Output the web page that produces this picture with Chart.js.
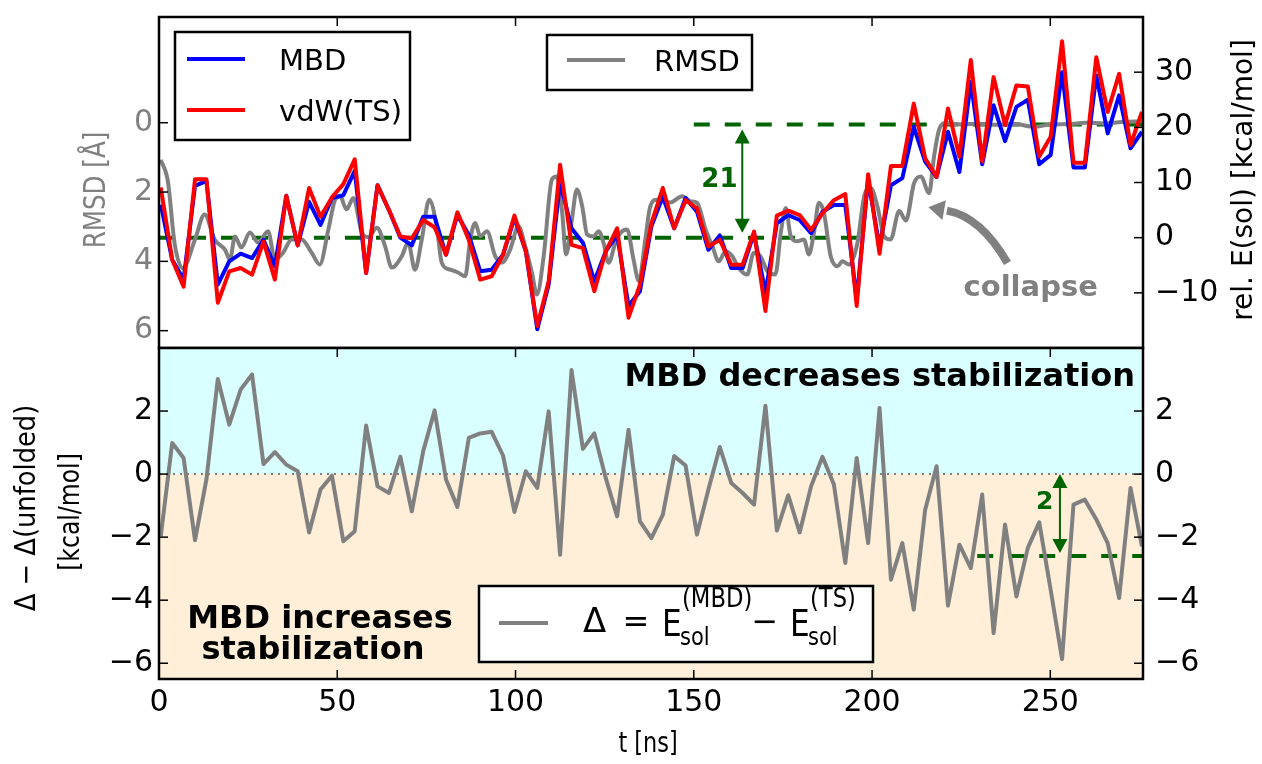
<!DOCTYPE html>
<html><head><meta charset="utf-8"><title>MBD vs vdW(TS)</title>
<script src="https://cdn.jsdelivr.net/npm/chart.js@4.4.1/dist/chart.umd.min.js"></script>
<style>html,body{margin:0;padding:0;background:#fff;overflow:hidden}#wrap{position:relative;width:1262px;height:764px}canvas{position:absolute;left:0;top:0}</style>
</head><body><div id="wrap"><canvas id="cTop" width="1262" height="764"></canvas><canvas id="cBot" width="1262" height="764"></canvas></div>
<script>
// ---------------- DATA ----------------
const times = [0.5,3.7,6.9,10.1,13.3,16.5,19.7,22.9,26.1,29.3,
32.5,35.7,38.9,42.1,45.3,48.5,51.7,54.9,58.1,61.3,
64.5,67.7,70.9,74.1,77.3,80.5,83.7,86.9,90.1,93.3,
96.5,99.7,102.9,106.1,109.3,112.5,115.7,118.9,122.1,125.3,
128.5,131.7,134.9,138.1,141.3,144.5,147.7,150.9,154.1,157.3,
160.5,163.7,166.9,170.1,173.3,176.5,179.7,182.9,186.1,189.3,
192.5,195.7,198.9,202.1,205.3,208.5,211.7,214.9,218.1,221.3,
224.5,227.7,230.9,234.1,237.3,240.5,243.7,246.9,250.1,253.3,
256.5,259.7,262.9,266.1,269.3,272.5,275.7];

const mbd = [6.0,-4.0,-7.6,9.4,10.3,-8.5,-4.3,-2.9,-3.7,-0.4,
-5.2,7.6,-1.4,6.5,2.3,7.2,7.7,12.1,-6.4,9.5,
5.0,0.0,-1.4,3.8,3.8,-3.1,4.1,0.5,-6.1,-5.8,
-3.1,3.6,-2.5,-16.6,-8.5,10.1,1.7,-0.9,-7.9,-2.5,
0.5,-12.4,-9.7,2.0,7.4,1.7,7.2,4.7,-2.2,0.4,
-5.5,-5.5,0.8,-10.0,2.6,4.1,3.2,0.8,4.7,5.9,
5.9,-11.2,10.5,-1.6,9.5,10.8,20.1,13.8,11.0,19.2,
11.9,28.2,13.3,24.0,17.5,23.7,25.0,13.3,15.0,30.0,
12.7,12.7,29.4,18.9,25.8,16.2,19.2];

const vdwTS = [9.1,-4.0,-8.9,10.6,10.6,-11.8,-6.1,-5.5,-6.7,-0.7,
-7.6,7.6,-1.4,9.0,3.8,7.3,9.7,14.2,-6.4,9.5,
5.0,0.2,-0.1,3.2,1.9,-3.1,4.6,-0.4,-7.6,-7.0,
-3.1,4.0,-2.5,-16.0,-7.9,13.2,-1.3,-1.9,-9.7,-2.5,
1.7,-14.5,-8.5,2.6,9.0,1.7,6.8,5.3,-1.6,-0.4,
-4.9,-4.9,1.1,-13.3,4.0,4.9,4.1,1.4,4.4,6.8,
7.9,-12.4,11.5,-2.9,13.0,13.0,24.3,14.4,11.0,23.4,
14.7,32.2,13.8,29.1,20.4,27.6,27.4,14.7,18.3,35.6,
13.6,13.6,32.7,22.8,29.7,16.8,22.8];

const delta = [-1.97,0.99,0.51,-2.10,-0.17,3.02,1.57,2.68,3.16,0.32,
0.70,0.30,0.09,-1.85,-0.49,-0.05,-2.13,-1.81,1.54,-0.39,
-0.60,0.55,-1.18,0.72,2.02,-0.17,-1.04,1.15,1.29,1.34,
0.59,-1.20,0.09,-0.44,1.99,-2.56,3.30,0.80,1.29,-0.12,
-1.34,1.41,-1.50,-2.03,-1.29,0.57,0.27,-1.92,-0.49,0.86,
-0.28,-0.60,-0.97,2.17,-1.79,-0.67,-1.85,-0.39,0.55,-0.33,
-2.82,0.51,-2.19,2.10,-3.35,-2.19,-4.30,-1.13,0.25,-4.17,
-2.24,-2.98,-0.65,-5.04,-1.60,-3.88,-2.34,-1.53,-3.67,-5.87,
-0.97,-0.81,-1.44,-2.19,-3.93,-0.44,-2.29];

// RMSD trace: [t (ns), RMSD (Å)]
const rmsdCurve = [[0.5,1.07],[2.5,1.7],[4.4,3.5],[6.7,4.2],[10.0,3.4],[12.8,2.65],[15.6,3.37],[18.5,3.66],[19.9,3.95],[21.3,3.28],
[23.1,3.6],[25.5,3.17],[27.8,3.46],[30.6,3.13],[32.5,3.95],[34.8,3.75],[37.2,3.37],[40.0,3.37],[42.8,3.75],[45.1,4.09],
[47.5,3.08],[49.4,2.22],[50.8,2.12],[52.6,2.5],[54.5,2.17],[56.9,3.17],[58.7,3.3],[61.1,3.03],[63.4,3.56],[65.3,4.18],
[68.1,3.85],[69.9,3.46],[71.8,4.24],[73.7,3.37],[75.8,2.22],[77.9,2.99],[79.3,4.04],[81.7,4.24],[84.0,4.33],[85.9,4.43],
[87.3,3.37],[88.7,2.89],[90.1,3.28],[92.0,3.13],[94.3,3.85],[96.2,4.04],[98.5,3.66],[100.8,2.99],[102.7,3.56],[104.6,4.33],
[106.0,4.96],[107.9,3.85],[110.2,1.64],[111.6,1.55],[113.0,2.5],[114.2,3.8],[115.8,2.8],[117.2,1.93],[118.7,2.41],[120.1,3.23],
[121.9,3.28],[123.3,3.13],[124.7,3.47],[126.1,4.04],[128.0,3.47],[129.4,3.18],[131.3,3.08],[133.1,3.95],[134.6,4.57],[136.4,3.37],
[137.8,2.41],[139.7,2.22],[143.4,2.3],[146.7,2.12],[149.1,2.27],[150.9,2.31],[153.3,3.08],[155.2,3.56],[157.0,4.0],[158.9,3.71],
[160.8,3.85],[162.6,4.19],[165.0,4.38],[166.8,3.76],[168.7,3.85],[170.6,4.28],[172.9,4.38],[174.4,3.18],[175.8,2.46],[177.2,3.28],
[179.0,3.42],[180.9,3.37],[182.3,3.8],[183.7,3.18],[185.1,2.31],[186.5,2.6],[188.4,3.85],[190.3,4.14],[191.7,4.0],[193.5,4.09],
[195.9,3.47],[197.8,2.12],[199.6,1.88],[201.5,2.41],[203.4,3.28],[205.2,3.37],[207.6,2.55],[209.5,2.82],[211.8,1.74],[213.7,1.55],
[216.0,2.03],[217.4,0.97],[218.8,0.2],[220.7,0.01],[225,0.05],[230,0.03],[235,0.06],[240,0.04],[245.6,0.12],[250,0.05],
[255,0.04],[260,0.0],[265,0.02],[270,-0.02],[276,-0.04]];

const xTicks = [0,50,100,150,200,250];
const rmsdTicks = [0,2,4,6];
const eTicks = [-10,0,10,20,30];
const dTicks = [-6,-4,-2,0,2];
// reference levels: [t start, t end, value]
const topLowLevel = [0, 198, 0];
const topHighLevel = [150, 276, 20.5];
const botLevel = [229.5, 276, -2.6];
const zeroLevel = [0, 276, 0];

// ---------------- STYLE / HELPERS ----------------
const FONT = '"DejaVu Sans", "Liberation Sans", sans-serif';
const GREEN = '#006400', GRAY = '#808080';
const W = 1262, H = 764, PL = 159, PR = 1143, TOPY = 17, SPLIT = 348, BOTY = 679;
const minusFmt = v => String(v).replace('-', '\u2212');

function txt(ctx, s, x, y, o) {
  o = o || {};
  ctx.save();
  ctx.font = o.font || ('30px ' + FONT);
  ctx.fillStyle = o.color || '#000';
  ctx.textAlign = o.align || 'left';
  ctx.textBaseline = o.baseline || 'alphabetic';
  ctx.translate(x, y);
  if (o.rot) ctx.rotate(o.rot);
  if (o.sx) ctx.scale(o.sx, 1);
  ctx.fillText(s, 0, 0);
  ctx.restore();
}
function seg(ctx, x1, y1, x2, y2) { ctx.beginPath(); ctx.moveTo(x1, y1); ctx.lineTo(x2, y2); ctx.stroke(); }
function vArrow(ctx, x, yA, yB, color) {
  const hl = 14, hw = 7.5;
  ctx.save();
  ctx.strokeStyle = color; ctx.fillStyle = color; ctx.lineWidth = 2;
  const top = Math.min(yA, yB), bot = Math.max(yA, yB);
  seg(ctx, x, top + hl - 1, x, bot - hl + 1);
  ctx.beginPath(); ctx.moveTo(x, top); ctx.lineTo(x - hw, top + hl); ctx.lineTo(x + hw, top + hl); ctx.closePath(); ctx.fill();
  ctx.beginPath(); ctx.moveTo(x, bot); ctx.lineTo(x - hw, bot - hl); ctx.lineTo(x + hw, bot - hl); ctx.closePath(); ctx.fill();
  ctx.restore();
}
function pts(xs, ys) { return xs.map((t, i) => ({x: t, y: ys[i]})); }
function level(l) { return [{x: l[0], y: l[2]}, {x: l[1], y: l[2]}]; }
const tickFont = {family: FONT, size: 30};
function noGrid() { return {display: false, drawTicks: false}; }
function fixY(width) { return s => { s.width = width; s.paddingTop = 0; s.paddingBottom = 0; }; }
function fixX(height) { return s => { s.height = height; s.paddingLeft = 0; s.paddingRight = 0; }; }

// ---------------- TOP PANEL ----------------
const topDeco = {
  id: 'topDeco',
  afterDraw(chart) {
    const {ctx, chartArea: a} = chart;
    const xs = chart.scales.x, yE = chart.scales.yE, yR = chart.scales.yR;
    ctx.save();
    ctx.strokeStyle = '#000'; ctx.lineWidth = 2.5;
    ctx.strokeRect(a.left, a.top, a.right - a.left, a.bottom - a.top);
    ctx.lineWidth = 1.5;
    xTicks.forEach(v => { const p = xs.getPixelForValue(v); seg(ctx, p, a.top, p, a.top + 9); });
    rmsdTicks.forEach(v => { const p = yR.getPixelForValue(v); seg(ctx, a.left, p, a.left + 9, p); });
    eTicks.forEach(v => { const p = yE.getPixelForValue(v); seg(ctx, a.right - 9, p, a.right, p); });

    // gap arrow "21"
    vArrow(ctx, xs.getPixelForValue(163.6), yE.getPixelForValue(19.6), yE.getPixelForValue(0.9), GREEN);
    txt(ctx, '21', xs.getPixelForValue(157.2), yE.getPixelForValue(9.2), {font: 'bold 26px ' + FONT, color: GREEN, align: 'center'});

    // collapse arrow
    ctx.strokeStyle = GRAY; ctx.fillStyle = GRAY; ctx.lineWidth = 8; ctx.lineCap = 'butt';
    const p0 = [xs.getPixelForValue(238), yE.getPixelForValue(-4.6)];
    const c0 = [xs.getPixelForValue(230.5), yE.getPixelForValue(3.8)];
    const p2 = [xs.getPixelForValue(221), yE.getPixelForValue(4.9)];
    const tip = [xs.getPixelForValue(215.8), yE.getPixelForValue(5.5)];
    ctx.beginPath(); ctx.moveTo(p0[0], p0[1]); ctx.quadraticCurveTo(c0[0], c0[1], p2[0], p2[1]); ctx.stroke();
    const dx = tip[0] - p2[0], dy = tip[1] - p2[1], L = Math.hypot(dx, dy), nx = -dy / L, ny = dx / L;
    const bx = p2[0] + dx * 0.15, by = p2[1] + dy * 0.15;
    ctx.beginPath(); ctx.moveTo(tip[0], tip[1]); ctx.lineTo(bx + nx * 10, by + ny * 10); ctx.lineTo(bx - nx * 10, by - ny * 10); ctx.closePath(); ctx.fill();
    txt(ctx, 'collapse', xs.getPixelForValue(244.5), yE.getPixelForValue(-10.6), {font: 'bold 29px ' + FONT, color: GRAY, align: 'center'});

    // legends
    ctx.lineWidth = 2.5; ctx.strokeStyle = '#000'; ctx.fillStyle = '#fff';
    ctx.fillRect(175, 32, 235, 108); ctx.strokeRect(175, 32, 235, 108);
    ctx.fillRect(547, 35, 205, 55); ctx.strokeRect(547, 35, 205, 55);
    ctx.lineWidth = 4;
    ctx.strokeStyle = '#0000ff'; seg(ctx, 187, 59, 245, 59);
    ctx.strokeStyle = '#ff0000'; seg(ctx, 187, 110, 245, 110);
    ctx.strokeStyle = GRAY; seg(ctx, 567, 60, 625, 60);
    txt(ctx, 'MBD', 279, 70, {font: '29px ' + FONT});
    txt(ctx, 'vdW(TS)', 279, 121, {font: '29px ' + FONT});
    txt(ctx, 'RMSD', 654, 71, {font: '29px ' + FONT});

    // axis titles
    txt(ctx, 'RMSD [\u00C5]', 97, 190, {font: '30px ' + FONT, color: GRAY, align: 'center', baseline: 'middle', rot: -Math.PI / 2, sx: 0.82});
    txt(ctx, 'rel. E(sol) [kcal/mol]', 1245, 180, {font: '28px ' + FONT, align: 'center', baseline: 'middle', rot: -Math.PI / 2, sx: 1.0});
    ctx.restore();
  }
};

new Chart(document.getElementById('cTop'), {
  type: 'line',
  data: {datasets: [
    {label: 'vdW(TS)', data: pts(times, vdwTS), yAxisID: 'yE', borderColor: '#ff0000', borderWidth: 4, order: 0},
    {label: 'MBD', data: pts(times, mbd), yAxisID: 'yE', borderColor: '#0000ff', borderWidth: 4, order: 1},
    {label: 'RMSD', data: rmsdCurve.map(p => ({x: p[0], y: p[1]})), yAxisID: 'yR', borderColor: GRAY, borderWidth: 4, cubicInterpolationMode: 'monotone', order: 2},
    {label: 'low', data: level(topLowLevel), yAxisID: 'yE', borderColor: GREEN, borderWidth: 4, borderDash: [16, 15], order: 3},
    {label: 'high', data: level(topHighLevel), yAxisID: 'yE', borderColor: GREEN, borderWidth: 4, borderDash: [16, 15], order: 3}
  ]},
  options: {
    responsive: false, animation: false, devicePixelRatio: 1,
    layout: {padding: {left: 0, right: 0, top: TOPY, bottom: H - SPLIT}},
    plugins: {legend: {display: false}, tooltip: {enabled: false}},
    elements: {point: {radius: 0}, line: {tension: 0, fill: false, borderJoinStyle: 'round'}},
    scales: {
      x: {type: 'linear', min: 0, max: 276, grid: noGrid(), border: {display: false}, ticks: {display: false},
          afterBuildTicks: s => { s.ticks = xTicks.map(v => ({value: v})); }, afterFit: fixX(0)},
      yR: {type: 'linear', position: 'left', reverse: true, min: -3.05, max: 6.5, grid: noGrid(), border: {display: false},
           ticks: {color: GRAY, font: tickFont, padding: 6, callback: v => minusFmt(v)},
           afterBuildTicks: s => { s.ticks = rmsdTicks.map(v => ({value: v})); }, afterFit: fixY(PL)},
      yE: {type: 'linear', position: 'right', min: -20, max: 40, grid: noGrid(), border: {display: false},
           ticks: {color: '#000', font: tickFont, padding: 12, callback: v => minusFmt(v)},
           afterBuildTicks: s => { s.ticks = eTicks.map(v => ({value: v})); }, afterFit: fixY(W - PR)}
    }
  },
  plugins: [topDeco]
});

// ---------------- BOTTOM PANEL ----------------
const botDeco = {
  id: 'botDeco',
  beforeDatasetsDraw(chart) {
    const {ctx, chartArea: a} = chart;
    const y0 = chart.scales.yD.getPixelForValue(0);
    ctx.save();
    ctx.fillStyle = '#d9ffff'; ctx.fillRect(a.left, a.top, a.right - a.left, y0 - a.top);
    ctx.fillStyle = '#ffefd9'; ctx.fillRect(a.left, y0, a.right - a.left, a.bottom - y0);
    ctx.restore();
  },
  afterDraw(chart) {
    const {ctx, chartArea: a} = chart;
    const xs = chart.scales.x, yD = chart.scales.yD;
    ctx.save();
    ctx.strokeStyle = '#000'; ctx.lineWidth = 2.5;
    ctx.strokeRect(a.left, a.top, a.right - a.left, a.bottom - a.top);
    ctx.lineWidth = 1.5;
    xTicks.forEach(v => { const p = xs.getPixelForValue(v); seg(ctx, p, a.top, p, a.top + 9); seg(ctx, p, a.bottom - 9, p, a.bottom); });
    dTicks.forEach(v => { const p = yD.getPixelForValue(v); seg(ctx, a.left, p, a.left + 9, p); seg(ctx, a.right - 9, p, a.right, p); });

    // gap arrow "2"
    vArrow(ctx, xs.getPixelForValue(252.7), yD.getPixelForValue(0), yD.getPixelForValue(-2.5), GREEN);
    txt(ctx, '2', xs.getPixelForValue(248.4), yD.getPixelForValue(-1.1), {font: 'bold 25px ' + FONT, color: GREEN, align: 'center'});

    // region labels
    txt(ctx, 'MBD decreases stabilization', 1135, 386, {font: 'bold 32px ' + FONT, align: 'right'});
    txt(ctx, 'MBD increases', 320, 628, {font: 'bold 32px ' + FONT, align: 'center'});
    txt(ctx, 'stabilization', 313, 659, {font: 'bold 32px ' + FONT, align: 'center'});

    // legend with formula
    ctx.lineWidth = 2.5; ctx.strokeStyle = '#000'; ctx.fillStyle = '#fff';
    ctx.fillRect(479, 586, 394, 76); ctx.strokeRect(479, 586, 394, 76);
    ctx.strokeStyle = GRAY; ctx.lineWidth = 4; seg(ctx, 499, 623, 548, 623);
    txt(ctx, '\u0394', 583, 632, {font: '34px ' + FONT});
    txt(ctx, '=', 636, 632, {font: '32px ' + FONT, align: 'center'});
    txt(ctx, 'E', 662, 636, {font: '38px ' + FONT, sx: 0.82});
    txt(ctx, '(MBD)', 682, 607, {font: '27px ' + FONT, sx: 0.84});
    txt(ctx, 'sol', 680, 645, {font: '25px ' + FONT, sx: 0.84});
    txt(ctx, '\u2212', 765, 632, {font: '32px ' + FONT, align: 'center'});
    txt(ctx, 'E', 790, 636, {font: '38px ' + FONT, sx: 0.82});
    txt(ctx, '(TS)', 810, 607, {font: '27px ' + FONT, sx: 0.84});
    txt(ctx, 'sol', 808, 645, {font: '25px ' + FONT, sx: 0.84});

    // axis titles
    txt(ctx, '\u0394 \u2212 \u0394(unfolded)', 28, 508, {font: '28px ' + FONT, align: 'center', baseline: 'middle', rot: -Math.PI / 2, sx: 0.92});
    txt(ctx, '[kcal/mol]', 72, 512, {font: '28px ' + FONT, align: 'center', baseline: 'middle', rot: -Math.PI / 2, sx: 0.84});
    txt(ctx, 't [ns]', 648, 745, {font: '28px ' + FONT, align: 'center', baseline: 'middle', sx: 0.8});
    ctx.restore();
  }
};

new Chart(document.getElementById('cBot'), {
  type: 'line',
  data: {datasets: [
    {label: 'Delta', data: pts(times, delta), yAxisID: 'yD', borderColor: GRAY, borderWidth: 4, order: 0},
    {label: 'level', data: level(botLevel), yAxisID: 'yD', borderColor: GREEN, borderWidth: 4, borderDash: [16, 15], order: 1},
    {label: 'zero', data: level(zeroLevel), yAxisID: 'yD', borderColor: GRAY, borderWidth: 2, borderDash: [2, 5], order: 2}
  ]},
  options: {
    responsive: false, animation: false, devicePixelRatio: 1,
    layout: {padding: {left: 0, right: 0, top: SPLIT, bottom: 0}},
    plugins: {legend: {display: false}, tooltip: {enabled: false}},
    elements: {point: {radius: 0}, line: {tension: 0, fill: false, borderJoinStyle: 'round'}},
    scales: {
      x: {type: 'linear', position: 'bottom', min: 0, max: 276, grid: noGrid(), border: {display: false},
          ticks: {color: '#000', font: tickFont, padding: 6, maxRotation: 0, callback: v => minusFmt(v)},
          afterBuildTicks: s => { s.ticks = xTicks.map(v => ({value: v})); }, afterFit: fixX(H - BOTY)},
      yD: {type: 'linear', position: 'left', min: -6.5, max: 4.0, grid: noGrid(), border: {display: false},
           ticks: {color: '#000', font: tickFont, padding: 6, callback: v => minusFmt(v)},
           afterBuildTicks: s => { s.ticks = dTicks.map(v => ({value: v})); }, afterFit: fixY(PL)},
      yD2: {type: 'linear', position: 'right', min: -6.5, max: 4.0, grid: noGrid(), border: {display: false},
           ticks: {color: '#000', font: tickFont, padding: 12, callback: v => minusFmt(v)},
           afterBuildTicks: s => { s.ticks = dTicks.map(v => ({value: v})); }, afterFit: fixY(W - PR)}
    }
  },
  plugins: [botDeco]
});
</script></body></html>
